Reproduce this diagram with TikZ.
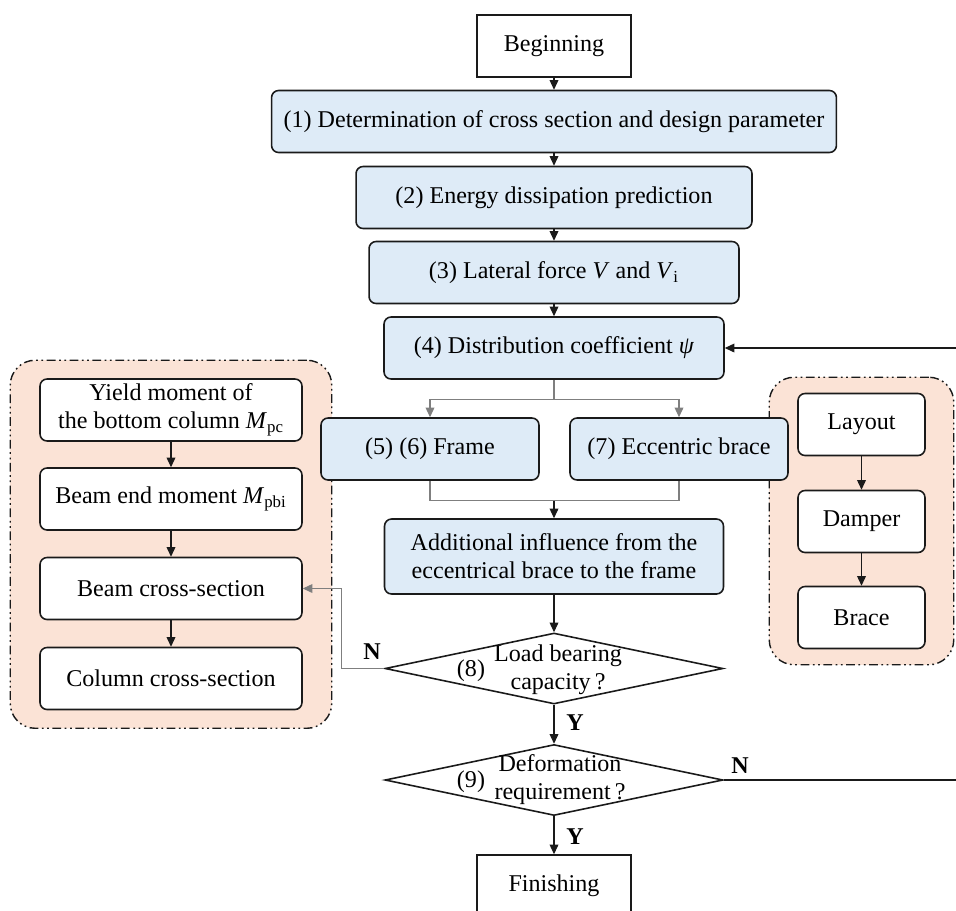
\documentclass[tikz,border=0pt]{standalone}
\usepackage{fontspec}
\setmainfont{Liberation Serif}
\usepackage{xcolor}
\usepackage{tikz}
\usetikzlibrary{positioning,arrows.meta,fit,backgrounds,calc,shapes.geometric}
\definecolor{StepBlue}{HTML}{DEEBF7}
\definecolor{GroupPeach}{HTML}{FBE3D6}
\definecolor{LineDark}{HTML}{1A1A1A}
\definecolor{LineGray}{HTML}{7F7F7F}

\begin{document}
\begin{tikzpicture}[x=0.02cm,y=-0.02cm,
    every node/.style={font=\fontsize{13.7}{16}\selectfont},
    stepbox/.style={draw=LineDark, fill=StepBlue, rounded corners=4pt, line width=0.9pt,
                    minimum height=1.24cm, align=center, inner sep=2pt},
    subbox/.style={draw=LineDark, fill=white, rounded corners=4pt, line width=0.9pt,
                   minimum height=1.24cm, align=center, inner sep=2pt},
    endbox/.style={draw=LineDark, fill=white, line width=0.9pt,
                   minimum width=3.08cm, minimum height=1.24cm},
    check/.style={draw=LineDark, diamond, line width=0.9pt, inner sep=0pt,
                  minimum width=6.76cm, minimum height=1.42cm},
    grp/.style={draw=LineDark, fill=GroupPeach, rounded corners=0.5cm, line width=0.8pt,
                dash pattern=on 5pt off 2pt on 1pt off 2pt on 1pt off 2pt},
    ar/.style={-{Triangle[length=5.5pt,width=5pt]}, LineDark, line width=0.6pt},
    ln/.style={LineGray, line width=0.6pt},
    yn/.style={font=\fontsize{13.7}{16}\selectfont\bfseries}]
  \useasboundingbox (0,0) rectangle (956,910);
  \clip (0,0) rectangle (956,910);

  % main column
  \node[endbox] (begin) at (554,46) {Beginning};
  \node[stepbox, minimum width=11.3cm] (s1) at (554,121.5)
    {(1) Determination of cross section and design parameter};
  \node[stepbox, minimum width=7.92cm] (s2) at (554,197.5)
    {(2) Energy dissipation prediction};
  \node[stepbox, minimum width=7.4cm] (s3) at (554,272.5)
    {(3) Lateral force \textit{V} and \textit{V}\textsubscript{i}};
  \node[stepbox, minimum width=6.8cm] (s4) at (554,348)
    {(4) Distribution coefficient \textit{ψ}};
  \node[stepbox, minimum width=4.36cm] (frame) at (430,449) {(5) (6) Frame};
  \node[stepbox, minimum width=4.36cm] (ecc) at (679,449) {(7) Eccentric brace};
  \node[stepbox, minimum width=6.78cm, minimum height=1.5cm] (add) at (554,556.5)
    {Additional influence from the\\eccentrical brace to the frame};
  \node[check] (d8) at (554,668.5) {};
  \node (t8) at (558,670) [align=center] {Load bearing\\capacity\,?};
  \node (n8) at (471,671) {(8)};
  \node[check] (d9) at (554,780) {};
  \node (t9) at (560,780) [align=center] {Deformation\\requirement\,?};
  \node (n9) at (471,782) {(9)};
  \node[endbox] (finish) at (554,886) {Finishing};

  % frame design steps
  \node[subbox, minimum width=5.24cm] (yield) at (171,410)
    {Yield moment of\\the bottom column \textit{M}\textsubscript{pc}};
  \node[subbox, minimum width=5.24cm] (beamend) at (171,499)
    {Beam end moment \textit{M}\textsubscript{pbi}};
  \node[subbox, minimum width=5.24cm] (beamcs) at (171,588.5) {Beam cross-section};
  \node[subbox, minimum width=5.24cm] (colcs) at (171,678.5) {Column cross-section};

  % brace design steps
  \node[subbox, minimum width=2.54cm] (layout) at (861.5,424.5) {Layout};
  \node[subbox, minimum width=2.54cm] (damper) at (861.5,521.5) {Damper};
  \node[subbox, minimum width=2.54cm] (brace) at (861.5,617.5) {Brace};

  \begin{scope}[on background layer]
    \node[grp, fit=(yield)(colcs), inner xsep=0.58cm, inner ysep=0.36cm] (leftgrp) {};
    \node[grp, fit=(layout)(brace), inner xsep=0.56cm, inner ysep=0.31cm] (rightgrp) {};
  \end{scope}

  \draw[ar](begin)--(s1); \draw[ar](s1)--(s2); \draw[ar](s2)--(s3); \draw[ar](s3)--(s4);
  \draw[ln](s4.south)--++(0,20) coordinate (split);
  \draw[ar,LineGray](split)-|(frame.north); \draw[ar,LineGray](split)-|(ecc.north);
  \draw[ln](frame.south)--++(0,20) coordinate (mleft)-|(ecc.south);
  \coordinate (merge) at (mleft -| add.north);
  \draw[ar](merge)--(add); \draw[ar](add)--(d8);
  \draw[ar](d8)--(d9); \draw[ar](d9)--(finish);
  \draw[ar](yield)--(beamend); \draw[ar](beamend)--(beamcs); \draw[ar](beamcs)--(colcs);
  \draw[ar](layout)--(damper); \draw[ar](damper)--(brace);
  \draw[ar,LineGray](d8.west)--++(-43,0)|-(beamcs.east);
  \coordinate (fbdown) at (990,780);
  \coordinate (fbup) at (990,348);
  \draw[ar](d9.east)--(fbdown)--(fbup)--(s4.east);

  \node[yn] (no8) at (372,652) {N};
  \node[yn] (yes8) at (575,723) {Y};
  \node[yn] (no9) at (740,766) {N};
  \node[yn] (yes9) at (575,837) {Y};
\end{tikzpicture}
\end{document}
